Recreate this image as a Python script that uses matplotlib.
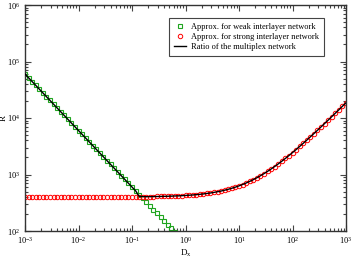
import matplotlib
matplotlib.use("Agg")
import math
import matplotlib.pyplot as plt
from matplotlib.ticker import LogLocator, FuncFormatter, NullFormatter

plt.rcParams['font.family'] = ['Liberation Serif', 'DejaVu Serif']
plt.rcParams['mathtext.fontset'] = 'custom'
plt.rcParams['mathtext.rm'] = 'Liberation Serif'
plt.rcParams['mathtext.it'] = 'Liberation Serif:italic'

# D_x sample points (15 per decade, 1e-3 .. 1e3)
mult = [1.000, 1.166, 1.359, 1.585, 1.848, 2.154, 2.512, 2.929, 3.415, 3.981,
        4.642, 5.412, 6.310, 7.356, 8.577]
D = [m * 10.0 ** e for e in range(-3, 3) for m in mult] + [1000.0]

# weak interlayer approximation (first 45 points)
R_weak = [60000, 51460, 44150, 37860, 32470, 27850, 23890, 20490, 17570, 15070,
          12930, 11090, 9510, 8160, 7000,
          6000, 5146, 4415, 3786, 3247, 2785, 2389, 2049, 1757, 1507,
          1293, 1109, 951, 816, 700,
          600, 515, 441, 379, 325, 279, 239, 205, 176, 151,
          129, 111, 95, 82, 70]

# strong interlayer approximation
R_strong = [400] * 30 + [
    403, 403, 404, 404, 405, 406, 407, 408, 409, 411,
    412, 414, 417, 419, 422, 426, 430, 434, 440, 446,
    453, 462, 471, 483, 496, 510, 528, 548, 571, 598,
    629, 665, 707, 755, 810, 875, 950, 1035, 1136, 1251,
    1384, 1540, 1718, 1924, 2166, 2442, 2760, 3135, 3562, 4056,
    4636, 5298, 6062, 6961, 7986, 9170, 10560, 12150, 13980, 16140,
    18600]

# ratio of the multiplex network
R_ratio = R_weak[:32] + [412, 406, 405, 406, 407, 408, 409, 411,
    412, 414, 417, 419, 422, 426, 430, 434, 440, 446,
    453, 462, 471, 483, 496, 510, 528, 548, 571, 598,
    629, 665, 707, 755, 810, 875, 950, 1035, 1136, 1251,
    1384, 1540, 1718, 1924, 2166, 2442, 2760, 3135, 3562, 4056,
    4636, 5298, 6062, 6961, 7986, 9170, 10560, 12150, 13980, 16140,
    18600]

fig = plt.figure(figsize=(3.53, 2.58), dpi=100)
ax = fig.add_axes([25/353, 1-231/258, 321/353, 226/258])

green = '#1fa51f'
ax.plot(D[:len(R_weak)], R_weak, ls='none', marker='s', ms=3.0, mfc='none',
        mec=green, mew=0.8, label='Approx. for weak interlayer network', zorder=2)
ax.plot(D, R_strong, ls='none', marker='o', ms=3.2, mfc='none',
        mec='#ff0000', mew=0.7, label='Approx. for strong interlayer network', zorder=2)
ax.plot(D, R_ratio, color='black', lw=1.0, label='Ratio of the multiplex network', zorder=3)

ax.set_xscale('log')
ax.set_yscale('log')
ax.set_xlim(1e-3, 1e3)
ax.set_ylim(1e2, 1e6)

def fmt(v, pos):
    e = int(round(math.log10(v)))
    return r'$\mathregular{10^{%d}}$' % e

for axis in (ax.xaxis, ax.yaxis):
    axis.set_major_locator(LogLocator(base=10, numticks=20))
    axis.set_minor_locator(LogLocator(base=10, subs=range(2, 10), numticks=20))
    axis.set_major_formatter(FuncFormatter(fmt))
    axis.set_minor_formatter(NullFormatter())

ax.tick_params(which='both', direction='in', top=True, right=True, labelsize=6,
               color='#444444', width=0.8)
ax.tick_params(which='major', length=4.5)
ax.tick_params(axis='x', which='major', pad=3)
ax.tick_params(axis='y', which='major', pad=3.5)
ax.tick_params(which='minor', length=2.5)
for s in ax.spines.values():
    s.set_linewidth(1.0)
    s.set_color('#333333')

ax.set_xlabel(r'D$_\mathregular{x}$', fontsize=6.5, labelpad=1)
ax.set_ylabel('R', fontsize=6.5)
ax.yaxis.set_label_coords(-0.054, 0.5)

leg = ax.legend(loc='upper right', bbox_to_anchor=(0.945, 0.96), fontsize=6,
                frameon=True, fancybox=False, edgecolor='#444444', framealpha=1,
                handlelength=1.5, handletextpad=0.6, borderpad=0.6, labelspacing=0.2,
                numpoints=1)
leg.get_frame().set_linewidth(0.8)

fig.savefig('out.png', dpi=100)
